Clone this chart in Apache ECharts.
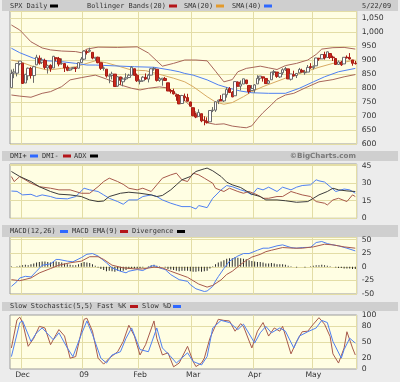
<!DOCTYPE html>
<html><head><meta charset="utf-8">
<script src="https://cdn.jsdelivr.net/npm/echarts@6/dist/echarts.min.js"></script>
<style>html,body{margin:0;padding:0;background:#ececec;}#c{width:400px;height:382px;}</style>
</head><body><div id="c"></div>
<script>
// ---- trading days (Nov 24 2008 - May 22 2009) ----
const dates = ['11/24','11/25','11/26','11/28','12/1','12/2','12/3','12/4','12/5','12/8','12/9','12/10','12/11','12/12','12/15','12/16','12/17','12/18','12/19','12/22','12/23','12/24','12/26','12/29','12/30','12/31','1/2','1/5','1/6','1/7','1/8','1/9','1/12','1/13','1/14','1/15','1/16','1/20','1/21','1/22','1/23','1/26','1/27','1/28','1/29','1/30','2/2','2/3','2/4','2/5','2/6','2/9','2/10','2/11','2/12','2/13','2/17','2/18','2/19','2/20','2/23','2/24','2/25','2/26','2/27','3/2','3/3','3/4','3/5','3/6','3/9','3/10','3/11','3/12','3/13','3/16','3/17','3/18','3/19','3/20','3/23','3/24','3/25','3/26','3/27','3/30','3/31','4/1','4/2','4/3','4/6','4/7','4/8','4/9','4/13','4/14','4/15','4/16','4/17','4/20','4/21','4/22','4/23','4/24','4/27','4/28','4/29','4/30','5/1','5/4','5/5','5/6','5/7','5/8','5/11','5/12','5/13','5/14','5/15','5/18','5/19','5/20','5/21','5/22'];

const opens  = [801.2,853.4,852.9,886.9,888.6,817.9,843.6,869.8,844.4,882.7,906.5,892.2,898.4,871.8,881.1,871.5,908.2,905.0,887.0,887.2,874.3,863.9,869.5,872.4,870.6,890.6,903.0,929.2,931.2,927.5,905.7,909.9,890.4,869.8,867.3,842.0,844.5,849.6,806.8,839.7,822.2,832.5,837.3,845.7,868.9,845.7,823.1,825.7,837.8,831.8,846.1,868.2,866.9,827.4,829.9,834.0,818.6,791.1,787.9,775.9,773.2,744.7,770.6,765.8,749.9,729.6,704.4,698.6,708.3,684.0,680.8,679.3,719.6,720.9,752.0,758.8,753.9,776.0,797.9,784.6,772.3,820.6,806.8,814.1,828.7,809.1,790.9,793.6,814.5,835.1,839.8,834.1,816.8,829.3,855.3,856.9,839.4,854.5,865.2,868.3,831.3,847.3,844.6,853.9,862.8,854.5,856.9,876.6,872.7,879.2,906.1,904.0,919.6,909.0,923.0,910.5,905.4,884.2,892.8,886.1,909.7,908.6,900.4,888.7];
const highs  = [865.6,868.9,887.7,896.3,888.6,850.5,873.1,875.6,879.4,918.6,916.3,908.3,904.6,883.2,884.6,914.7,908.2,911.0,905.5,887.4,880.4,869.8,873.7,873.7,891.1,910.3,934.7,936.6,943.9,927.5,910.0,911.9,890.4,877.0,867.3,851.6,858.1,849.6,841.7,839.7,838.6,852.5,850.5,877.9,868.9,851.7,830.8,842.6,851.9,850.6,870.8,875.0,868.1,838.2,835.5,839.4,818.6,796.2,797.6,778.7,777.9,775.5,780.1,779.4,751.3,729.6,711.7,724.1,708.3,699.1,695.3,719.6,731.9,752.6,758.3,774.5,778.1,803.0,803.2,788.9,823.4,823.7,826.8,833.0,828.7,809.1,810.5,813.6,845.6,842.5,839.8,834.1,828.4,856.9,864.3,856.9,852.9,870.4,875.6,868.3,850.1,861.8,852.9,871.8,868.8,864.5,882.1,888.7,880.5,907.9,907.7,920.3,929.6,930.2,923.0,915.6,905.4,898.4,897.0,910.0,916.4,924.6,900.4,896.7];
const lows   = [801.2,835.0,841.4,881.2,815.7,817.9,827.6,833.6,818.4,882.7,883.5,885.5,866.8,851.4,857.7,871.5,895.9,877.4,883.0,857.1,860.1,861.4,866.5,857.1,870.6,889.4,899.4,919.5,927.3,902.4,896.8,888.3,864.3,862.0,836.9,817.0,830.7,804.5,804.3,811.3,806.1,827.7,835.4,845.7,844.2,821.7,812.9,822.0,829.2,819.9,845.4,861.7,823.0,822.1,808.1,825.2,789.2,780.7,777.0,754.3,742.4,744.7,752.9,751.8,734.5,699.7,692.3,698.6,677.9,666.8,672.9,679.3,713.9,714.8,742.5,753.4,749.9,765.6,781.8,766.9,772.3,805.5,791.4,814.1,813.4,779.8,790.9,783.3,814.5,826.7,822.8,814.5,814.8,829.3,845.4,836.3,835.6,847.0,860.9,832.4,826.8,840.6,835.6,853.9,854.7,847.1,856.9,868.5,866.1,879.2,897.3,904.0,901.4,909.0,903.8,896.5,882.5,882.5,878.9,886.1,905.2,901.4,879.6,883.8];
const closes = [851.8,857.4,887.7,896.2,816.2,848.8,870.7,845.2,876.1,909.7,888.7,899.2,873.6,879.7,868.6,913.2,904.4,885.3,887.9,871.6,863.2,868.2,872.8,869.4,890.6,903.3,931.8,927.5,934.7,906.7,909.7,890.4,870.3,871.8,842.6,843.7,850.1,805.2,840.2,827.5,832.0,836.6,845.7,874.1,845.1,825.9,825.4,838.5,832.2,845.9,868.6,869.9,827.2,833.7,835.2,826.8,789.2,788.4,778.9,770.1,743.3,773.1,764.9,752.8,735.1,700.8,696.3,712.9,682.6,683.4,676.5,719.6,721.4,750.7,756.6,753.9,778.1,794.4,784.0,768.5,822.9,806.1,813.9,832.9,815.9,787.5,797.9,811.1,834.4,842.5,835.5,815.6,825.2,856.6,858.7,841.5,852.1,865.3,869.6,832.4,850.1,843.6,851.9,866.2,857.5,855.2,873.6,872.8,877.5,907.2,903.8,919.5,907.4,929.2,909.2,908.4,883.9,893.1,882.9,909.7,908.1,903.5,888.3,887.0];

// ---- overlay lines ----
const bbUpper = [['11/24',1025],['11/28',1007],['12/4',965],['12/10',943],['12/15',936],['12/19',932],['12/29',930],['12/31',926],['1/5',939],['1/9',946],['1/21',945],['1/30',947],['2/5',925],['2/12',878],['2/19',888],['2/25',900],['3/3',900],['3/9',897],['3/12',860],['3/17',822],['3/20',830],['3/24',858],['3/27',870],['4/3',878],['4/8',872],['4/14',866],['4/17',880],['4/23',888],['4/29',900],['5/4',920],['5/6',939],['5/12',944],['5/18',945],['5/22',939]];
const bbLower = [['11/24',775],['11/28',771],['12/4',767],['12/10',781],['12/15',787],['12/19',805],['12/24',829],['12/31',837],['1/8',846],['1/14',832],['1/22',811],['1/28',799],['2/2',793],['2/5',799],['2/11',804],['2/17',800],['2/19',786],['2/24',765],['2/26',746],['3/2',725],['3/4',700],['3/9',676],['3/12',670],['3/17',672],['3/20',664],['3/25',660],['3/27',658],['3/31',665],['4/2',690],['4/6',712],['4/9',740],['4/14',760],['4/17',775],['4/22',781],['4/28',800],['5/5',822],['5/12',830],['5/18',840],['5/22',848]];
const sma20 = [['11/24',900],['11/28',894],['12/5',876],['12/12',864],['12/19',870],['12/29',876],['1/5',888],['1/8',897],['1/14',890],['1/22',876],['1/28',864],['2/4',862],['2/12',846],['2/19',835],['2/25',822],['3/2',805],['3/9',769],['3/12',750],['3/17',742],['3/20',748],['3/26',769],['3/31',787],['4/6',805],['4/17',835],['4/28',858],['5/5',874],['5/12',888],['5/19',894],['5/22',900]];
const sma40 = [['11/24',942],['11/28',926],['12/5',906],['12/12',897],['12/19',894],['12/29',888],['1/5',882],['1/8',882],['1/20',879],['1/29',876],['2/9',874],['2/18',864],['2/23',858],['2/25',852],['3/2',846],['3/9',829],['3/13',811],['3/19',799],['3/25',789],['3/31',783],['4/8',781],['4/17',781],['4/24',799],['5/1',822],['5/7',840],['5/14',858],['5/22',870]];

const dmiPlus = [['11/24',23.3],['11/26',23],['12/1',20],['12/4',20.5],['12/8',18.6],['12/10',20],['12/15',18.6],['12/17',17.1],['12/23',16.6],['12/29',18.6],['1/2',25.7],['1/6',24.3],['1/9',22.9],['1/13',20],['1/15',17.1],['1/21',14.3],['1/23',12],['1/27',15.7],['1/30',15.7],['2/3',18.6],['2/6',20],['2/10',18.6],['2/12',15.7],['2/18',12.9],['2/20',11.4],['2/24',10],['2/27',10],['3/3',8],['3/4',10.9],['3/9',9.1],['3/11',17.1],['3/16',24.3],['3/18',28],['3/20',27],['3/25',24.3],['3/27',22.9],['3/31',20],['4/2',25.7],['4/6',24.3],['4/8',26.6],['4/14',22.9],['4/16',26.6],['4/21',24.3],['4/23',26.6],['4/27',28],['4/30',28.6],['5/4',32.9],['5/5',32],['5/7',31],['5/11',27],['5/13',22.9],['5/18',25],['5/20',24.3],['5/22',21.4]];
const dmiMinus = [['11/24',35.7],['11/25',31.4],['11/28',35.7],['12/4',30],['12/9',27],['12/15',25.7],['12/18',24.3],['12/24',24.3],['12/31',21.4],['1/6',21.4],['1/9',27],['1/13',31.4],['1/15',34.3],['1/21',31.4],['1/23',29],['1/27',25.7],['1/30',24.3],['2/3',25.7],['2/6',22.9],['2/10',28.6],['2/12',34.3],['2/18',37.1],['2/20',38.6],['2/24',32.9],['2/26',31.4],['3/2',38.6],['3/4',37.1],['3/6',34.3],['3/11',30],['3/12',25.7],['3/17',22.9],['3/19',25.7],['3/24',22.9],['3/26',21.4],['3/30',22.9],['4/2',20],['4/6',17.1],['4/8',17.1],['4/14',18.6],['4/16',18.6],['4/21',22.9],['4/23',21.4],['4/27',20],['4/30',18.6],['5/4',14.3],['5/7',12.9],['5/8',11.4],['5/12',15.7],['5/14',17.1],['5/19',14.3],['5/21',20],['5/22',18.6]];
const adx = [['11/24',40],['11/28',35.7],['12/4',31.4],['12/9',27],['12/15',22.9],['12/18',20.6],['12/24',20],['12/31',18.6],['1/6',15.7],['1/9',14.3],['1/13',14.8],['1/15',18.6],['1/22',21.4],['1/27',22.3],['2/2',21.4],['2/6',20],['2/10',18.6],['2/12',19.5],['2/18',24.3],['2/20',28.6],['2/24',32.9],['2/27',35.7],['3/3',40],['3/6',42.3],['3/9',42.9],['3/11',40.6],['3/16',35.7],['3/18',30.9],['3/20',28.6],['3/25',26.3],['3/27',23.4],['3/31',20.6],['4/3',18.6],['4/7',15.7],['4/14',15.7],['4/17',15],['4/23',13.7],['4/29',14.3],['5/1',17.1],['5/5',20],['5/8',22.9],['5/12',25.7],['5/14',24.3],['5/19',23.4],['5/22',22.9]];

const macdLine = [['11/24',-36],['11/26',-27],['11/28',-20.5],['12/2',-17.4],['12/4',-18.6],['12/8',-8],['12/10',3],['12/15',5.5],['12/17',13.6],['12/18',13.6],['12/23',10.5],['12/26',9.3],['12/31',17],['1/5',23.2],['1/7',24.5],['1/9',20],['1/14',7.5],['1/16',-1.9],['1/22',-8],['1/26',-11],['1/27',-8],['1/30',-5],['2/3',-6.8],['2/6',1.2],['2/9',2.5],['2/11',-1.9],['2/13',-5],['2/18',-14.3],['2/23',-23.6],['2/26',-26.7],['2/27',-32.9],['3/3',-40.4],['3/6',-45.4],['3/9',-44.5],['3/11',-36],['3/12',-26],['3/13',-18],['3/17',-3],['3/19',10.5],['3/24',20],['3/26',24.5],['3/30',24.5],['4/2',30.6],['4/6',34.4],['4/8',34.4],['4/14',38.7],['4/16',40.5],['4/21',35.6],['4/23',34.4],['4/27',35.6],['4/30',36],['5/4',44.8],['5/6',46.7],['5/8',42.9],['5/12',40.5],['5/14',38.7],['5/19',34.4],['5/22',29.4]];
const macdSignal = [['11/24',-23.6],['11/28',-25.5],['12/4',-20.5],['12/9',-11.2],['12/15',-3.1],['12/18',3.1],['12/24',7.5],['12/31',10.5],['1/6',18.7],['1/9',18.7],['1/13',13.7],['1/16',3.1],['1/23',-1.9],['1/29',-3.7],['2/3',-3.7],['2/9',-0.6],['2/12',-1.9],['2/18',-8.1],['2/26',-19.3],['3/4',-31.7],['3/9',-37.3],['3/11',-34.2],['3/16',-24],['3/18',-14],['3/20',-8.1],['3/25',4.4],['3/27',11.8],['3/31',18],['4/3',23],['4/7',28],['4/9',30.6],['4/16',35.6],['4/22',34.4],['4/27',34.4],['5/1',36.8],['5/7',41.7],['5/12',40.5],['5/18',36.8],['5/22',34.4]];
const macdDiv = [1,0,1,2,3,4,3,5,6,8,9,10,10,9,8,9,10,9,8,6,5,4,3,3,5,7,9,8,7,5,2,-1,-4,-6,-8,-7,-8,-9,-7,-8,-7,-6,-4,-2,-3,-3,-2,-1,0,1,3,4,2,1,0,-1,-4,-5,-6,-7,-8,-7,-7,-7,-8,-9,-9,-8,-9,-8,-7,-3,1,5,8,10,12,15,16,16,18,17,16,15,14,12,11,10,9,9,8,6,6,7,6,5,5,5,4,2,1,0,-1,0,0,-1,0,1,2,3,3,4,3,2,1,0,-1,-2,-2,-3,-3,-3,-4,-4];

const stochK = [['11/24',39],['11/26',91],['11/28',96],['12/1',86],['12/3',42],['12/5',57],['12/9',79],['12/11',76],['12/15',45],['12/17',64],['12/18',73],['12/22',61],['12/24',20],['12/29',23],['1/2',92],['1/5',94],['1/7',70],['1/9',20],['1/13',9],['1/15',20],['1/21',32],['1/23',51],['1/27',81],['1/29',61],['2/2',26],['2/4',45],['2/9',89],['2/10',57],['2/12',26],['2/17',30],['2/19',4],['2/23',11],['2/26',42],['3/2',14],['3/3',4.5],['3/5',11],['3/6',20],['3/10',57],['3/13',92],['3/17',90],['3/19',89],['3/23',70],['3/25',84],['3/26',79],['3/31',39],['4/2',70],['4/6',86],['4/8',61],['4/13',76],['4/15',70],['4/16',79],['4/21',28],['4/23',51],['4/27',69],['4/29',70],['5/1',83],['5/5',95],['5/7',83],['5/11',60],['5/12',28],['5/14',11],['5/18',39],['5/19',69],['5/21',39],['5/22',26]];
const stochD = [['11/24',23],['11/28',86],['12/1',89],['12/4',51],['12/8',67],['12/10',76],['12/16',54],['12/18',67],['12/23',39],['12/26',23],['12/31',64],['1/5',89],['1/7',64],['1/12',20],['1/14',11],['1/16',26],['1/22',32],['1/26',57],['1/28',76],['2/2',36],['2/5',32],['2/10',76],['2/12',39],['2/18',23],['2/20',11],['2/26',30],['3/2',14],['3/5',7.5],['3/9',23],['3/11',76],['3/16',90],['3/19',86],['3/24',73],['3/26',83],['4/1',48],['4/3',67],['4/7',79],['4/9',67],['4/15',76],['4/17',70],['4/22',39],['4/24',61],['4/29',69],['5/4',76],['5/6',90],['5/8',86],['5/12',51],['5/15',20],['5/18',36],['5/20',57],['5/22',48]];

// ---- axis tick labels ----
const monthStarts = ['12/1','1/2','2/2','3/2','4/1','5/1'];
const monthLabels = ['Dec','09','Feb','Mar','Apr','May'];
const stochTicks = [0,20,50,80,100];

// ---- styling ----
const FONT = 'DejaVu Sans';
const LFONT = 'DejaVu Sans Mono';
const GRID_LINE = '#e3dda6';
const PANEL = '#fffee3';
const C_BB = '#a8665a', C_SMA20 = '#d8aa62', C_BLUE = '#4f80f2', C_RED = '#a85a4c', C_BLK = '#3c3c3c';

const gridTops = [11, 164, 237, 315];
const gridHeights = [133, 54.3, 57, 54];
const grids = gridTops.map((t,i)=>({left:10, top:t, width:346.7, height:gridHeights[i], show:true,
  backgroundColor:PANEL, borderColor:'#9c9c9c', borderWidth:1}));

const xAxes = [0,1,2,3].map(i=>({
  type:'category', gridIndex:i, data:dates, boundaryGap:true,
  axisLine:{show:false}, axisTick:{show:false},
  axisLabel: i===3 ? {show:true, interval:(idx,v)=>monthStarts.includes(v),
      formatter:v=>monthLabels[monthStarts.indexOf(v)] || '', color:'#333', fontSize:7.7, fontFamily:FONT, margin:2} : {show:false},
  splitLine:{show:true, interval:(idx,v)=>monthStarts.includes(v), lineStyle:{color:GRID_LINE, width:1}}
}));

const lblBase = {color:'#333', fontSize:7.7, fontFamily:FONT, margin:5};
const yAxes = [
  {gridIndex:0, min:600, max:1075, interval:50,
   axisLabel:Object.assign({}, lblBase, {formatter:v=> v%50===0 ? v.toLocaleString('en-US') : ''})},
  {gridIndex:1, min:0, max:46.4, interval:15,
   axisLabel:Object.assign({}, lblBase, {formatter:v=> v%15===0 ? String(v) : ''})},
  {gridIndex:2, min:-50, max:55, interval:25,
   axisLabel:Object.assign({}, lblBase, {formatter:v=> v%25===0 ? String(v) : ''})},
  {gridIndex:3, min:0, max:100, interval:10,
   axisLabel:Object.assign({}, lblBase, {formatter:v=> stochTicks.includes(v) ? String(v) : ''})}
].map((a,i)=>Object.assign({type:'value', position:'right', scale:false,
   axisLine:{show:false}, axisTick:{show:false},
   splitLine:{show:i!==3, lineStyle:{color:GRID_LINE, width:1}}}, a));

function line(data, axis, color, z){
  return {type:'line', xAxisIndex:axis, yAxisIndex:axis, data:data, symbol:'none', showSymbol:false,
    lineStyle:{color:color, width:1}, z:z||3, silent:true, animation:false};
}

const series = [
  line(bbUpper,0,C_BB,2), line(bbLower,0,C_BB,2), line(sma20,0,C_SMA20,2), line(sma40,0,C_BLUE,2),
  {type:'candlestick', xAxisIndex:0, yAxisIndex:0, barWidth:3, z:4, animation:false,
   data:dates.map((d,i)=>[opens[i],closes[i],lows[i],highs[i]]),
   itemStyle:{color:'#ffffff', color0:'#c8281c', borderColor:'#6a6a6a', borderColor0:'#a81c14', borderWidth:1}},
  line(dmiPlus,1,C_BLUE), line(dmiMinus,1,C_RED), line(adx,1,C_BLK),
  {type:'bar', xAxisIndex:2, yAxisIndex:2, data:macdDiv, barWidth:1, itemStyle:{color:'#2a2a2a'}, z:2, animation:false, silent:true},
  line(macdLine,2,C_BLUE), line(macdSignal,2,C_RED),
  Object.assign(line(stochK,3,C_RED), {markLine:{silent:true, symbol:'none', z:1, animation:false, label:{show:false},
      lineStyle:{color:GRID_LINE, type:'solid', width:1}, data:stochTicks.filter(v=>v>0&&v<100).map(v=>({yAxis:v}))}}),
  line(stochD,3,C_BLUE)
];

// ---- header / legend bars ----
function bar(y,h){ return {type:'rect', shape:{x:2,y:y,width:396,height:h}, style:{fill:'#cfcfcf'}, silent:true}; }
function txt(s,x,y,opt){ opt=opt||{}; return {type:'text', x:x, y:y, silent:true, style:{text:s, fill:opt.fill||'#333',
  font:(opt.bold?'bold ':'normal ')+(opt.size||6.9)+'px "'+(opt.family||LFONT)+'"', textAlign:opt.align||'left', align:opt.align||'left',
  textVerticalAlign:'middle', verticalAlign:'middle'}}; }
function mk(x,y,c){ return {type:'rect', shape:{x:x,y:y-1.5,width:8,height:3}, style:{fill:c}, silent:true}; }
const RED_M='#b4161a', BLUE_M='#2f68ff', ORG_M='#e39a2c', BLK_M='#000';
const graphics = [
  bar(0,11), bar(151,10), bar(225,12), bar(302,9),
  txt('SPX Daily',10,6), mk(50,6,BLK_M),
  txt('Bollinger Bands(20)',87,6), mk(169,6,RED_M),
  txt('SMA(20)',184,6), mk(216,6,ORG_M),
  txt('SMA(40)',232,6), mk(264,6,BLUE_M),
  txt('5/22/09',362,6),
  txt('DMI+',10,156), mk(30,156,BLUE_M), txt('DMI-',42,156), mk(63,156,RED_M), txt('ADX',74,156), mk(90,156,BLK_M),
  txt('\u00a9BigCharts.com',356,156,{bold:true, align:'right', fill:'#7a7a7a', size:7.2, family:FONT}),
  txt('MACD(12,26)',10,231.5), mk(60,231.5,BLUE_M), txt('MACD EMA(9)',72,231.5), mk(120,231.5,RED_M),
  txt('Divergence',132,231.5), mk(177,231.5,BLK_M),
  txt('Slow Stochastic(5,5) Fast %K',10,306.5), mk(130,306.5,RED_M), txt('Slow %D',142,306.5), mk(173,306.5,BLUE_M)
];

const chart = echarts.init(document.getElementById('c'), null, {renderer:'canvas'});
chart.setOption({
  animation:false, backgroundColor:'#ececec',
  grid:grids, xAxis:xAxes, yAxis:yAxes, series:series, graphic:graphics
});
</script></body></html>
